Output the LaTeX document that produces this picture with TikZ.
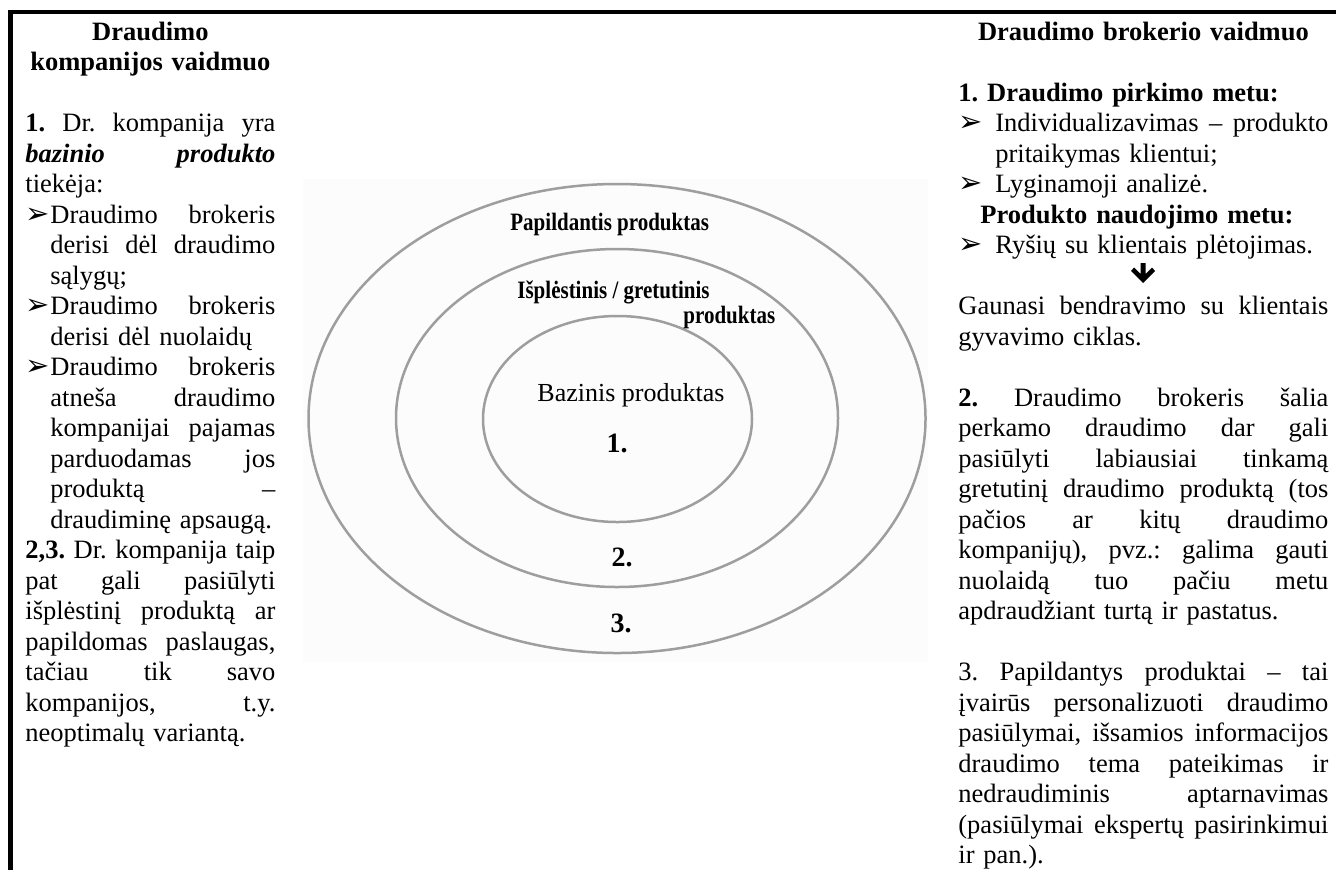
\documentclass[tikz,border=0pt]{standalone}
\usepackage{fontspec}
\setmainfont{Liberation Serif}
\newfontfamily\symfont{DejaVu Sans}
\newfontfamily\narrowserif[FakeStretch=0.84]{Liberation Serif}
\usetikzlibrary{arrows.meta}

\definecolor{ringgray}{RGB}{158,158,158}
\definecolor{photobg}{RGB}{252,252,252}

% line helpers for the two text columns
\newcommand\arrowbul{{\symfont\fontsize{14.5pt}{15.25pt}\selectfont ➢}}
\newcommand\evenspace{\frenchspacing\spaceskip=\fontdimen2\font plus 1fil\relax}
\newcommand\jlin[1]{\strut\hbox to \linewidth{\evenspace#1}}
\newcommand\jind[2]{\strut\hspace*{#1}\hbox to \dimexpr\linewidth-#1\relax{\evenspace#2}}
\newcommand\lind[2]{\strut\hspace*{#1}#2}
\newcommand\bjus[2]{\strut\makebox[#1][l]{\arrowbul}\hbox to \dimexpr\linewidth-#1\relax{\evenspace#2}}
\newcommand\bleft[2]{\strut\makebox[#1][l]{\arrowbul}#2}
\newcommand\cent[1]{\strut\makebox[\linewidth][c]{#1}}

\tikzset{
  column/.style={inner sep=0pt, anchor=north west,
    font=\fontsize{13.25pt}{15.25pt}\selectfont\frenchspacing},
  ring/.style={draw=ringgray, line width=1.25pt},
  ringlabel/.style={inner sep=0pt, anchor=base west,
    font=\narrowserif\bfseries\fontsize{12.5pt}{14pt}\selectfont},
  corelabel/.style={inner sep=0pt, anchor=base west,
    font=\fontsize{13pt}{15pt}\selectfont},
  levelnum/.style={inner sep=0pt, anchor=base,
    font=\bfseries\fontsize{14pt}{16pt}\selectfont},
}

\begin{document}
\begin{tikzpicture}[x=0.5pt, y=-0.5pt]
\useasboundingbox (0,0) rectangle (1336,869);
\fill[white] (0,0) rectangle (1336,869);

% frame on the top and left side
\draw[line width=2.2pt] (10.5,872) |- (1340,12);

% product levels
\fill[photobg] (303,179) rectangle (928,662);
\draw[ring] (617,418.5) ellipse [x radius=308.5, y radius=234.5];
\draw[ring] (617,418) ellipse [x radius=221, y radius=169];
\draw[ring] (617.5,419) ellipse [x radius=134.5, y radius=103];

\node[ringlabel] (extra) at (510,230) {Papildantis produktas};
\node[ringlabel] (ext1) at (517,298) {Išplėstinis / gretutinis};
\node[ringlabel] (ext2) at (683,323) {produktas};
\node[corelabel] (core) at (537,401) {Bazinis produktas};
\node[levelnum] (n1) at (617,452) {1.};
\node[levelnum] (n2) at (622,566) {2.};
\node[levelnum] (n3) at (621,632) {3.};

% insurer column
\node[column, text width=125pt] (company) at (25,18.65) {%
\cent{\textbf{Draudimo}}\\
\cent{\textbf{kompanijos vaidmuo}}\\
\strut\\
\jlin{\textbf{1.} Dr. kompanija yra}\\
\jlin{\textbf{\textit{bazinio produkto}}}\\
\strut tiekėja:\\
\bjus{12.5pt}{Draudimo brokeris}\\
\jind{12.5pt}{derisi dėl draudimo}\\
\lind{12.5pt}{sąlygų;}\\
\bjus{12.5pt}{Draudimo brokeris}\\
\lind{12.5pt}{derisi dėl nuolaidų}\\
\bjus{12.5pt}{Draudimo brokeris}\\
\jind{12.5pt}{atneša draudimo}\\
\jind{12.5pt}{kompanijai pajamas}\\
\jind{12.5pt}{parduodamas jos}\\
\jind{12.5pt}{produktą –}\\
\lind{12.5pt}{draudiminę apsaugą.}\\
\jlin{\textbf{2,3.} Dr. kompanija taip}\\
\jlin{pat gali pasiūlyti}\\
\jlin{išplėstinį produktą ar}\\
\jlin{papildomas paslaugas,}\\
\jlin{tačiau tik savo}\\
\jlin{kompanijos, t.y.}\\
\strut neoptimalų variantą.};

% broker column
\node[column, text width=185pt] (broker) at (958,18.65) {%
\cent{\textbf{Draudimo brokerio vaidmuo}}\\
\strut\\
\strut\textbf{1. Draudimo pirkimo metu:}\\
\bjus{18.5pt}{Individualizavimas – produkto}\\
\lind{18.5pt}{pritaikymas klientui;}\\
\bleft{18.5pt}{Lyginamoji analizė.}\\
\lind{11pt}{\textbf{Produkto naudojimo metu:}}\\
\bleft{18.5pt}{Ryšių su klientais plėtojimas.}\\
\strut\\
\jlin{Gaunasi bendravimo su klientais}\\
\strut gyvavimo ciklas.\\
\strut\\
\jlin{\textbf{2.} Draudimo brokeris šalia}\\
\jlin{perkamo draudimo dar gali}\\
\jlin{pasiūlyti labiausiai tinkamą}\\
\jlin{gretutinį draudimo produktą (tos}\\
\jlin{pačios ar kitų draudimo}\\
\jlin{kompanijų), pvz.: galima gauti}\\
\jlin{nuolaidą tuo pačiu metu}\\
\strut apdraudžiant turtą ir pastatus.\\
\strut\\
\jlin{3. Papildantys produktai – tai}\\
\jlin{įvairūs personalizuoti draudimo}\\
\jlin{pasiūlymai, išsamios informacijos}\\
\jlin{draudimo tema pateikimas ir}\\
\jlin{nedraudiminis aptarnavimas}\\
\jlin{(pasiūlymai ekspertų pasirinkimui}\\
\strut ir pan.).};

% bold down arrow between the broker lines
\fill (1140.5,263) -- (1145.5,263) -- (1145.5,274) -- (1152,267.5) -- (1155,271)
  -- (1143,283) -- (1131,271) -- (1134,267.5) -- (1140.5,274) -- cycle;
\end{tikzpicture}
\end{document}
